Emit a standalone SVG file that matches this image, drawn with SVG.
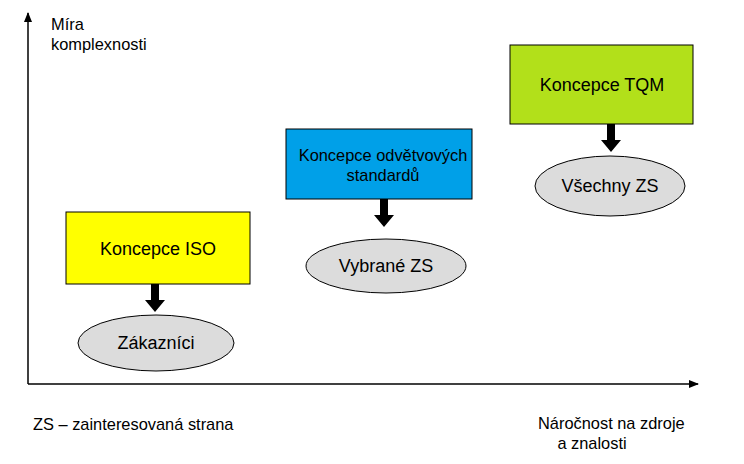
<svg xmlns="http://www.w3.org/2000/svg" width="744" height="464" viewBox="0 0 744 464">
<style>
text{font-family:"Liberation Sans",Arial,sans-serif;fill:#000}
.b{stroke:#000;stroke-width:1}
.e{fill:#dcdcdc;stroke:#000;stroke-width:1}
.t{font-size:18px;text-anchor:middle}
.s{font-size:16.4px}
</style>
<defs>
<marker id="ax" markerWidth="10" markerHeight="8" refX="9" refY="4" orient="auto" markerUnits="userSpaceOnUse"><path d="M0,0 L10,4 L0,8 Z" fill="#000"/></marker>
<path id="fat" d="M-4,0 H4 V16 H10 L0,28 L-10,16 H-4 Z" fill="#000"/>
</defs>
<rect width="744" height="464" fill="#fff"/>
<g id="axes">
<line x1="28" y1="384" x2="28" y2="13" stroke="#000" stroke-width="1.5" marker-end="url(#ax)"/>
<line x1="28" y1="384" x2="698" y2="384" stroke="#000" stroke-width="1.5" marker-end="url(#ax)"/>
</g>
<g id="connectors">
<use href="#fat" x="155" y="284"/>
<use href="#fat" x="384" y="199"/>
<use href="#fat" x="611" y="124"/>
</g>
<g id="iso"><rect class="b" x="66" y="212" width="184" height="72" fill="#ffff00"/><text class="t" x="158" y="255">Koncepce ISO</text></g>
<g id="odv"><rect class="b" x="286" y="129" width="186" height="70" fill="#00a0e8"/><text class="s" x="383" y="161" text-anchor="middle">Koncepce odvětvových</text><text class="s" x="383" y="181" text-anchor="middle">standardů</text></g>
<g id="tqm"><rect class="b" x="510" y="45" width="183" height="79" fill="#b2e01a"/><text class="t" x="602" y="91">Koncepce TQM</text></g>
<g id="zak"><ellipse class="e" cx="156" cy="343" rx="78" ry="28"/><text class="t" x="156" y="349">Zákazníci</text></g>
<g id="vyb"><ellipse class="e" cx="386" cy="266" rx="80" ry="27"/><text class="t" x="386" y="272">Vybrané ZS</text></g>
<g id="vse"><ellipse class="e" cx="610" cy="186" rx="75" ry="30"/><text class="t" x="610" y="192">Všechny ZS</text></g>
<g id="labels">
<text class="s" x="51" y="30">Míra</text>
<text class="s" x="51" y="50">komplexnosti</text>
<text class="s" x="33" y="430">ZS – zainteresovaná strana</text>
<text class="s" x="538" y="429">Náročnost na zdroje</text>
<text class="s" x="592" y="449" text-anchor="middle">a znalosti</text>
</g>
</svg>
